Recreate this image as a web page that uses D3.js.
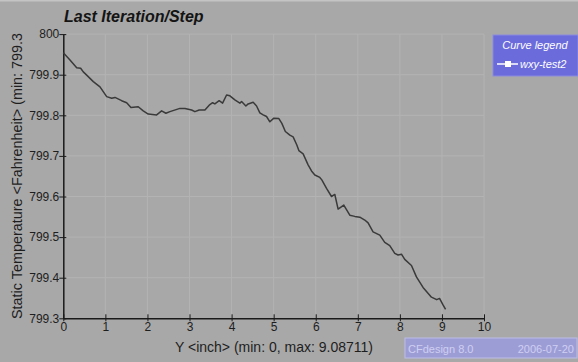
<!DOCTYPE html>
<html>
<head>
<meta charset="utf-8">
<script src="https://cdn.jsdelivr.net/npm/d3@7"></script>
<style>
  html, body { margin: 0; padding: 0; background: #a8a8a8; }
  svg { display: block; }
  text { font-family: "Liberation Sans", Arial, sans-serif; }
</style>
</head>
<body>
<svg id="chart" width="578" height="362"></svg>
<script>
// Temperature profile along Y for the last iteration
const positionY = [0, 0.159, 0.318, 0.413, 0.475, 0.556, 0.713, 0.872, 1.031, 1.150, 1.228, 1.387, 1.506, 1.608, 1.781, 1.900, 2.019, 2.219, 2.337, 2.439, 2.534, 2.772, 2.891, 3.050, 3.128, 3.230, 3.366, 3.468, 3.549, 3.603, 3.705, 3.786, 3.881, 3.960, 4.078, 4.197, 4.238, 4.340, 4.394, 4.513, 4.594, 4.672, 4.751, 4.831, 4.910, 5.005, 5.124, 5.195, 5.278, 5.385, 5.463, 5.551, 5.599, 5.701, 5.819, 5.900, 5.979, 6.097, 6.145, 6.257, 6.375, 6.454, 6.532, 6.667, 6.810, 6.929, 7.048, 7.166, 7.245, 7.363, 7.523, 7.641, 7.760, 7.879, 7.957, 8.038, 8.116, 8.276, 8.394, 8.551, 8.751, 8.876, 8.943, 9.026, 9.08711];
const temperature = [799.954, 799.936, 799.917, 799.916, 799.907, 799.899, 799.883, 799.870, 799.846, 799.842, 799.844, 799.836, 799.831, 799.819, 799.821, 799.811, 799.803, 799.801, 799.811, 799.805, 799.809, 799.817, 799.817, 799.813, 799.809, 799.813, 799.813, 799.825, 799.831, 799.828, 799.836, 799.830, 799.850, 799.848, 799.838, 799.830, 799.834, 799.823, 799.828, 799.832, 799.823, 799.806, 799.801, 799.797, 799.784, 799.793, 799.792, 799.780, 799.760, 799.751, 799.747, 799.727, 799.713, 799.705, 799.678, 799.663, 799.653, 799.647, 799.641, 799.620, 799.600, 799.605, 799.569, 799.579, 799.554, 799.551, 799.549, 799.542, 799.535, 799.513, 799.505, 799.487, 799.479, 799.460, 799.456, 799.458, 799.445, 799.430, 799.402, 799.376, 799.352, 799.346, 799.349, 799.333, 799.322];
const xTicks = [0, 1, 2, 3, 4, 5, 6, 7, 8, 9, 10];
const yTicks = [799.3, 799.4, 799.5, 799.6, 799.7, 799.8, 799.9, 800];
const yTickLabels = ["799.3", "799.4", "799.5", "799.6", "799.7", "799.8", "799.9", "800"];
const seriesName = "wxy-test2";

const svg = d3.select("#chart");
const W = 578, H = 362;
const plot = { left: 63.3, right: 484, top: 34.1, bottom: 318.3 };

svg.append("rect").attr("width", W).attr("height", H).attr("fill", "#a8a8a8");
svg.append("rect").attr("width", W).attr("height", 1.5).attr("fill", "#c4c4c4");

const x = d3.scaleLinear().domain([0, 10]).range([plot.left, plot.right]);
const y = d3.scaleLinear().domain([799.3, 800]).range([plot.bottom, plot.top]);

// grid
const grid = svg.append("g").attr("stroke", "#b3b3b3").attr("stroke-width", 1);
xTicks.slice(1).forEach(t => {
  grid.append("line").attr("x1", x(t)).attr("x2", x(t)).attr("y1", plot.top).attr("y2", plot.bottom);
});
yTicks.slice(1).forEach(t => {
  grid.append("line").attr("x1", plot.left).attr("x2", plot.right).attr("y1", y(t)).attr("y2", y(t));
});

// axes
const yAxis = d3.axisLeft(y).tickValues(yTicks)
  .tickFormat((d, i) => yTickLabels[i]).tickSize(4).tickSizeOuter(0);
const gy = svg.append("g").attr("transform", `translate(${plot.left},0)`).call(yAxis);
gy.select(".domain").attr("stroke", "#1a1a1a").attr("stroke-width", 1.5);
gy.selectAll(".tick line").attr("stroke", "#1a1a1a").attr("x2", 3).attr("x1", -4);
gy.selectAll(".tick text").attr("x", -4).attr("font-size", 12)
  .attr("font-family", "Liberation Sans, Arial, sans-serif").attr("fill", "#1e1e1e");

const xAxis = d3.axisBottom(x).tickValues(xTicks).tickSize(4).tickSizeOuter(0);
const gx = svg.append("g").attr("transform", `translate(0,${plot.bottom})`).call(xAxis);
gx.select(".domain").attr("stroke", "#1a1a1a").attr("stroke-width", 1.5);
gx.selectAll(".tick line").attr("stroke", "#1a1a1a").attr("y1", -4).attr("y2", 3);
gx.selectAll(".tick text").attr("y", 4).attr("font-size", 12)
  .attr("font-family", "Liberation Sans, Arial, sans-serif").attr("fill", "#1e1e1e");

// curve
const pts = positionY.map((v, i) => [v, temperature[i]]);
svg.append("path").datum(pts)
  .attr("fill", "none").attr("stroke", "#3a3a3a").attr("stroke-width", 1.5)
  .attr("stroke-linejoin", "round")
  .attr("d", d3.line().x(d => x(d[0])).y(d => y(d[1])));

// title
svg.append("text").attr("x", 64).attr("y", 22)
  .attr("font-size", 16).attr("font-weight", "bold").attr("font-style", "italic")
  .attr("fill", "#141414").text("Last Iteration/Step");

// axis titles
svg.append("text").attr("x", 274).attr("y", 352).attr("text-anchor", "middle")
  .attr("font-size", 14).attr("fill", "#1e1e1e")
  .text("Y <inch> (min: 0, max: 9.08711)");

svg.append("text").attr("transform", "translate(22,319) rotate(-90)")
  .attr("font-size", 14.4).attr("fill", "#1e1e1e")
  .text("Static Temperature <Fahrenheit> (min: 799.3");

// legend
const lg = svg.append("g");
lg.append("rect").attr("x", 493).attr("y", 35).attr("width", 85).attr("height", 41)
  .attr("fill", "#6b6bdc").attr("stroke", "#8a8ae0").attr("stroke-width", 1);
lg.append("text").attr("x", 535).attr("y", 49).attr("text-anchor", "middle")
  .attr("font-size", 11).attr("font-style", "italic").attr("fill", "#ffffff").text("Curve legend");
lg.append("line").attr("x1", 497).attr("x2", 518).attr("y1", 64).attr("y2", 64)
  .attr("stroke", "#ffffff").attr("stroke-width", 1.5);
lg.append("rect").attr("x", 505).attr("y", 61).attr("width", 6).attr("height", 6).attr("fill", "#ffffff");
lg.append("text").attr("x", 520).attr("y", 68)
  .attr("font-size", 11).attr("font-style", "italic").attr("fill", "#ffffff").text(seriesName);

// footer
const ft = svg.append("g");
ft.append("rect").attr("x", 405).attr("y", 338).attr("width", 172).attr("height", 20)
  .attr("fill", "#9d9dd6").attr("stroke", "#bcbce8").attr("stroke-width", 1);
ft.append("text").attr("x", 408).attr("y", 353).attr("font-size", 11)
  .attr("fill", "#cfcff2").text("CFdesign 8.0");
ft.append("text").attr("x", 574).attr("y", 353).attr("text-anchor", "end").attr("font-size", 11)
  .attr("fill", "#cfcff2").text("2006-07-20");
</script>
</body>
</html>
